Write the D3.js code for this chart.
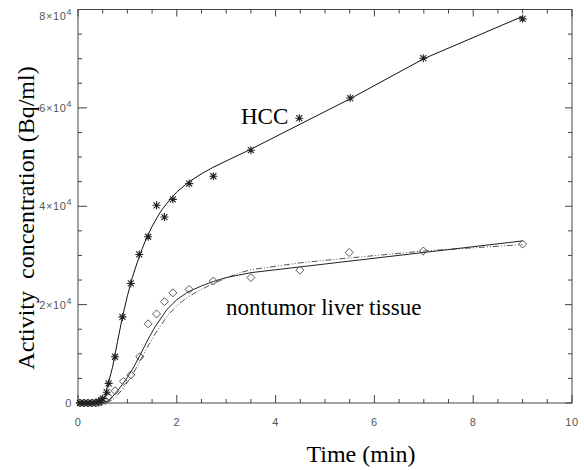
<!DOCTYPE html>
<html>
<head>
<meta charset="utf-8">
<script src="https://cdn.jsdelivr.net/npm/d3@7"></script>
<style>
  body { margin: 0; background: #fff; }
  .tick-lab { font-family: "Liberation Sans", Arial, sans-serif; font-size: 11px; fill: #555; letter-spacing: 0.6px; }
  .title { font-family: "Liberation Serif", "Times New Roman", serif; font-size: 24px; fill: #000; }
</style>
</head>
<body>
<div id="chart"></div>
<script>
// measured points, HCC (asterisks)
var hccTime = [0.04, 0.12, 0.2, 0.28, 0.36, 0.42, 0.47, 0.5, 0.58, 0.62, 0.75, 0.9, 1.07, 1.24, 1.42, 1.59, 1.75, 1.92, 2.25, 2.74, 3.5, 4.48, 5.51, 6.99, 9.0];
var hccValue = [0, 0, 0, 0, 100, 300, 600, 900, 2200, 4000, 9400, 17500, 24300, 30200, 33800, 40200, 37800, 41400, 44600, 46100, 51400, 57900, 62000, 70100, 78100];

// measured points, nontumor liver tissue (diamonds)
var livTime = [0.04, 0.12, 0.2, 0.28, 0.36, 0.42, 0.47, 0.55, 0.62, 0.75, 0.92, 1.07, 1.25, 1.42, 1.59, 1.75, 1.92, 2.25, 2.74, 3.5, 4.49, 5.49, 6.99, 9.0];
var livValue = [0, 0, 0, 0, 0, 100, 200, 500, 1200, 2500, 4400, 5700, 9400, 16100, 18100, 20600, 22400, 23100, 24800, 25500, 27000, 30600, 30900, 32300];

// fitted curve, HCC
var hccFitTime = [0, 0.45, 0.5, 0.55, 0.6, 0.7, 0.8, 0.9, 1.0, 1.1, 1.2, 1.3, 1.4, 1.5, 1.6, 1.7, 1.8, 1.9, 2.0, 2.25, 2.5, 2.75, 3.0, 3.5, 4.5, 5.5, 7, 9];
var hccFitValue = [0, 0, 300, 1500, 3500, 7300, 12500, 17500, 21800, 25500, 28600, 31400, 33800, 35900, 37700, 39300, 40600, 41800, 42900, 45000, 46600, 48000, 49200, 51600, 56700, 61800, 70000, 78600];

// fitted curves, nontumor (solid and dash-dot)
var livFitTime = [0, 0.5, 0.6, 0.7, 0.8, 0.9, 1.0, 1.1, 1.25, 1.4, 1.56, 1.8, 2.0, 2.23, 2.5, 2.74, 3.0, 3.25, 3.5, 9];
var livFitValue = [0, 0, 400, 1300, 2500, 3800, 5200, 6800, 9600, 12600, 15500, 19000, 21000, 22600, 23800, 24700, 25500, 26000, 26500, 32950];
var livFit2Time = [0, 0.55, 0.7, 0.8, 0.9, 1.0, 1.1, 1.25, 1.4, 1.56, 1.8, 2.0, 2.23, 2.5, 2.74, 3.0, 3.25, 3.5, 4.5, 5.5, 7, 9];
var livFit2Value = [0, 0, 600, 1600, 2800, 4200, 5700, 8400, 11300, 14000, 17600, 19800, 21600, 23100, 24300, 25400, 26400, 27100, 28500, 29500, 30900, 32200];

var xTicks = [0, 2, 4, 6, 8, 10];
var yTicks = [0, 20000, 40000, 60000, 80000];
var yTickLabels = ["0", "2\u00d710", "4\u00d710", "6\u00d710", "8\u00d710"];

var width = 584, height = 470;
var svg = d3.select("#chart").append("svg")
    .attr("width", width)
    .attr("height", height);

var x = d3.scaleLinear().domain([0, 10]).range([78, 572]);
var y = d3.scaleLinear().domain([0, 80000]).range([403, 9.5]);

var axisColor = "#444";

// frame
svg.append("rect")
    .attr("x", x(0)).attr("y", y(80000))
    .attr("width", x(10) - x(0)).attr("height", y(0) - y(80000))
    .attr("fill", "none").attr("stroke", axisColor).attr("stroke-width", 1);

// ticks, pointing inward on all four sides
var xMinor = d3.range(0, 10.01, 0.5);
var yMinor = d3.range(0, 80001, 5000);
function isMajorX(t) { return Math.abs(t / 2 - Math.round(t / 2)) < 1e-6; }
function isMajorY(v) { return v % 20000 === 0; }

svg.selectAll(".xb").data(xMinor).enter().append("line")
    .attr("x1", d => x(d)).attr("x2", d => x(d))
    .attr("y1", y(0)).attr("y2", d => y(0) - (isMajorX(d) ? 8 : 4))
    .attr("stroke", axisColor);
svg.selectAll(".xt").data(xMinor).enter().append("line")
    .attr("x1", d => x(d)).attr("x2", d => x(d))
    .attr("y1", y(80000)).attr("y2", d => y(80000) + (isMajorX(d) ? 7 : 4))
    .attr("stroke", axisColor);
svg.selectAll(".yl").data(yMinor).enter().append("line")
    .attr("y1", d => y(d)).attr("y2", d => y(d))
    .attr("x1", x(0)).attr("x2", d => x(0) + (isMajorY(d) ? 9 : 4))
    .attr("stroke", axisColor);
svg.selectAll(".yr").data(yMinor).enter().append("line")
    .attr("y1", d => y(d)).attr("y2", d => y(d))
    .attr("x1", x(10)).attr("x2", d => x(10) - (isMajorY(d) ? 7 : 4))
    .attr("stroke", axisColor);

// tick labels
svg.selectAll(".xlab").data(xTicks).enter().append("text")
    .attr("class", "tick-lab")
    .attr("x", d => x(d)).attr("y", 426)
    .attr("text-anchor", "middle")
    .text(d => d);

var yl = svg.selectAll(".ylab").data(yTicks).enter().append("text")
    .attr("class", "tick-lab")
    .attr("x", 72)
    .attr("y", (d, i) => y(d) + 4 + (i === 4 ? 6 : 0))
    .attr("text-anchor", "end");
yl.append("tspan").text((d, i) => yTickLabels[i]);
yl.filter(d => d !== 0).append("tspan")
    .attr("dy", -5).attr("font-size", "9px").text("4");

// fitted curves
var line = d3.line().x(d => x(d[0])).y(d => y(d[1]));

svg.append("path")
    .datum(d3.zip(livFit2Time, livFit2Value))
    .attr("d", line).attr("fill", "none")
    .attr("stroke", "#555").attr("stroke-width", 1)
    .attr("stroke-dasharray", "6,2,1,2,1,2");
svg.append("path")
    .datum(d3.zip(livFitTime, livFitValue))
    .attr("d", line).attr("fill", "none")
    .attr("stroke", "#222").attr("stroke-width", 1);
svg.append("path")
    .datum(d3.zip(hccFitTime, hccFitValue))
    .attr("d", line).attr("fill", "none")
    .attr("stroke", "#111").attr("stroke-width", 1);

// markers
var s = 4;
var star = "M" + (-s) + ",0L" + s + ",0M0," + (-s) + "L0," + s +
    "M" + (-s * 0.75) + "," + (-s * 0.75) + "L" + (s * 0.75) + "," + (s * 0.75) +
    "M" + (-s * 0.75) + "," + (s * 0.75) + "L" + (s * 0.75) + "," + (-s * 0.75);
var diamond = "M0," + (-s) + "L" + s + ",0L0," + s + "L" + (-s) + ",0Z";

svg.selectAll(".liv").data(d3.zip(livTime, livValue)).enter().append("path")
    .attr("transform", d => "translate(" + x(d[0]) + "," + y(d[1]) + ")")
    .attr("d", diamond)
    .attr("fill", "none").attr("stroke", "#555").attr("stroke-width", 1);

svg.selectAll(".hcc").data(d3.zip(hccTime, hccValue)).enter().append("path")
    .attr("transform", d => "translate(" + x(d[0]) + "," + y(d[1]) + ")")
    .attr("d", star)
    .attr("fill", "none").attr("stroke", "#222").attr("stroke-width", 1.1);

// series labels
svg.append("text").attr("class", "title")
    .attr("x", 241).attr("y", 124).style("font-size", "23px")
    .text("HCC");
svg.append("text").attr("class", "title")
    .attr("x", 226).attr("y", 315).style("font-size", "23px")
    .text("nontumor liver tissue");

// axis titles
svg.append("text").attr("class", "title")
    .attr("x", 361).attr("y", 462)
    .attr("text-anchor", "middle")
    .text("Time (min)");
svg.append("text").attr("class", "title")
    .attr("transform", "translate(34,218) rotate(-90)")
    .attr("text-anchor", "middle")
    .attr("xml:space", "preserve")
    .style("white-space", "pre")
    .text("Activity  concentration (Bq/ml)");
</script>
</body>
</html>
